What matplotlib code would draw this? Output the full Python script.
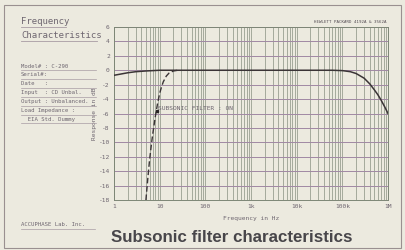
import numpy as np
import matplotlib
matplotlib.use("Agg")
import matplotlib.pyplot as plt
from matplotlib.lines import Line2D
from matplotlib.patches import Rectangle

# flat response (filter off)
freq_flat = [1, 2, 3, 5, 10, 100, 1000, 10000, 60000, 100000, 150000, 200000,
             300000, 400000, 500000, 600000, 700000, 850000, 1000000]
db_flat = [-0.7, -0.35, -0.2, -0.1, 0, 0, 0, 0, 0, -0.05, -0.2, -0.45,
           -1.1, -1.9, -2.7, -3.4, -4.1, -5.1, -6.0]

# subsonic filter on
freq_sub = [5, 5.5, 6, 6.5, 7, 8, 9, 10, 11, 12, 14, 16, 20, 25]
db_sub = [-18, -15, -12.5, -10.6, -9, -6.5, -4.6, -3.2, -2.3, -1.6, -0.8, -0.4, -0.1, 0]

yticks = [6, 4, 2, 0, -2, -4, -6, -8, -10, -12, -14, -16, -18]
xticks = [1, 10, 100, 1000, 10000, 100000, 1000000]
xlabels = ["1", "10", "100", "1k", "10k", "100k", "1M"]

info_lines = ["Model# : C-290", "Serial#:", "Date   :", "Input  : CD Unbal.",
              "Output : Unbalanced.", "Load Impedance :", "  EIA Std. Dummy"]

bg = "#ecEAdf"
txt = "#6e6670"
mono = "DejaVu Sans Mono"

fig = plt.figure(figsize=(4.05, 2.5), dpi=100)
fig.patch.set_facecolor(bg)

ax = fig.add_axes([114 / 405, 1 - 200 / 250, 274 / 405, 173 / 250])
ax.set_facecolor(bg)
ax.set_xscale("log")
ax.set_xlim(1, 1e6)
ax.set_ylim(-18, 6)

# log paper grid
for dec in range(6):
    for m in range(1, 10):
        f = m * 10 ** dec
        ax.axvline(f, color="#7d8676", lw=0.6, alpha=0.75, zorder=1)
for y in range(-18, 7, 2):
    ax.axhline(y, color="#a088a4", lw=0.7, zorder=1)

ax.plot(freq_flat, db_flat, color="#3a3436", lw=1.1, zorder=3)
ax.plot(freq_sub, db_sub, color="#3a3436", lw=1.0, ls=(0, (4, 2)), zorder=3)

ax.set_xticks(xticks)
ax.set_xticklabels(xlabels)
ax.set_yticks(yticks)
ax.set_yticklabels([str(v) for v in yticks])
ax.minorticks_off()
ax.tick_params(length=0, labelsize=4.5, colors=txt, pad=3)
for lab in ax.get_xticklabels() + ax.get_yticklabels():
    lab.set_family(mono)
for s in ax.spines.values():
    s.set_color("#7d8676")
    s.set_linewidth(0.7)

ax.set_xlabel("Frequency in Hz", fontsize=4.5, family=mono, color=txt, labelpad=5)
ax.set_ylabel("Response in dB", fontsize=4.5, family=mono, color=txt, labelpad=1)

ax.text(9.3, -5.3, "SUBSONIC FILTER : ON", fontsize=4.5, family=mono,
        color=txt, va="center", zorder=4)
ax.plot([8.6], [-5.6], marker="s", ms=2, color="#2a2426", zorder=4)
ax.text(0.995, 1.015, "HEWLETT PACKARD 4192A & 3562A", transform=ax.transAxes,
        fontsize=3, family=mono, color="#504850", ha="right", va="bottom")

# left information panel
def pl(x, y):
    return x / 405, 1 - y / 250

fig.text(*pl(21, 21), "Frequency", fontsize=6.5, family=mono, color=txt, va="center")
fig.add_artist(Line2D([21 / 405, 66 / 405], [1 - 27 / 250] * 2, color="#a89ca4", lw=0.6))
fig.text(*pl(21, 35), "Characteristics", fontsize=6.5, family=mono, color=txt, va="center")
fig.add_artist(Line2D([21 / 405, 97 / 405], [1 - 41 / 250] * 2, color="#a89ca4", lw=0.6))

for i, line in enumerate(info_lines):
    y = 66 + i * 8.9
    fig.text(*pl(21, y), line, fontsize=4.1, family=mono, color=txt, va="center")
    fig.add_artist(Line2D([21 / 405, 96 / 405], [1 - (y + 4) / 250] * 2,
                          color="#a89ca4", lw=0.5))

fig.text(*pl(21, 225), "ACCUPHASE Lab. Inc.", fontsize=4.1, family=mono,
         color=txt, va="center")
fig.add_artist(Line2D([21 / 405, 95 / 405], [1 - 229 / 250] * 2, color="#a89ca4", lw=0.5))

fig.text(*pl(232, 237), "Subsonic filter characteristics", fontsize=12.2,
         fontweight="bold", family="Liberation Sans", color="#48464a",
         ha="center", va="center")

# outer frame
fig.add_artist(Rectangle((4 / 405, 2 / 250), 397 / 405, 243 / 250, transform=fig.transFigure,
                         fill=False, edgecolor="#9a9090", lw=0.8))

fig.savefig("out.png", dpi=100, facecolor=bg)
